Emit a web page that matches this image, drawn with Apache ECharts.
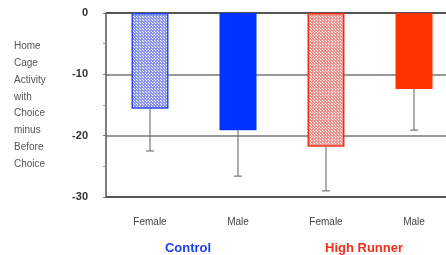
<!DOCTYPE html>
<html>
<head>
<meta charset="utf-8">
<script src="https://cdn.jsdelivr.net/npm/echarts@6/dist/echarts.min.js"></script>
<style>
  html, body { margin: 0; padding: 0; background: #fff; }
  #chart { width: 446px; height: 255px; }
</style>
</head>
<body>
<div id="chart"></div>
<script>
// data
var sexes = ['Female', 'Male', 'Female', 'Male'];
var groups = ['Control', 'High Runner'];
var means = [-15.6, -19.1, -21.8, -12.4];
var errLow = [-22.5, -26.6, -29.0, -19.1];
var yTicks = [-30, -20, -10, 0];

var FONT = '"Liberation Sans", Arial, sans-serif';

// dotted fill for the female bars
function dots(base) {
  var c = document.createElement('canvas');
  c.width = 3; c.height = 3;
  var ctx = c.getContext('2d');
  ctx.fillStyle = base;
  ctx.fillRect(0, 0, 3, 3);
  ctx.fillStyle = '#ffffff';
  ctx.fillRect(1, 1, 1, 1);
  ctx.fillRect(2, 2, 1, 1);
  return {image: c, repeat: 'repeat'};
}

var fills = [dots('#8c96ea'), '#0033ff', dots('#ec9590'), '#ff3300'];
var borders = ['#2a46f0', '#0033ff', '#f0301c', '#ff3300'];

var myChart = echarts.init(document.getElementById('chart'));

var option = {
  animation: false,
  // the plot runs past the right edge of the picture
  grid: {left: 106, width: 352, top: 13, height: 184, outerBoundsMode: 'none'},
  xAxis: [
    {
      type: 'category',
      data: sexes,
      position: 'bottom',
      axisLine: {show: false},
      axisTick: {show: false},
      axisLabel: {margin: 20, fontSize: 10, color: '#444', fontFamily: FONT}
    },
    {
      type: 'category',
      data: groups,
      position: 'bottom',
      offset: 37,
      axisLine: {show: false},
      axisTick: {show: false},
      axisLabel: {
        fontSize: 13, fontWeight: 'bold', fontFamily: FONT, padding: [0, 12, 0, 0],
        color: function (v, i) { return i === 0 ? '#1f3df0' : '#f0301c'; }
      }
    }
  ],
  yAxis: {
    type: 'value',
    min: yTicks[0],
    max: yTicks[yTicks.length - 1],
    interval: 10,
    axisLine: {show: true, lineStyle: {color: '#555', width: 1.5}},
    axisTick: {show: true, length: 3, lineStyle: {color: '#777'}},
    minorTick: {show: true, splitNumber: 2, length: 3, lineStyle: {color: '#999'}},
    axisLabel: {margin: 18, fontSize: 11, fontWeight: 'bold', color: '#333', fontFamily: FONT},
    splitLine: {show: true, lineStyle: {color: ['#555', '#999', '#999', '#555'], width: [2]}}
  },
  graphic: [{
    type: 'text',
    left: 14,
    top: 38,
    style: {
      text: 'Home\nCage\nActivity\nwith\nChoice\nminus\nBefore\nChoice',
      fontSize: 10,
      lineHeight: 16.8,
      fill: '#555',
      fontFamily: FONT
    }
  }],
  series: [
    {
      type: 'bar',
      barWidth: 37,
      data: means.map(function (v, i) {
        return {
          value: v,
          itemStyle: {color: fills[i], borderColor: borders[i], borderWidth: i % 2 === 0 ? 1.5 : 0}
        };
      })
    },
    {
      type: 'custom',
      data: means.map(function (v, i) { return [i, v, errLow[i]]; }),
      renderItem: function (params, api) {
        var top = api.coord([api.value(0), api.value(1)]);
        var bot = api.coord([api.value(0), api.value(2)]);
        var style = {stroke: '#777', lineWidth: 1.2};
        return {
          type: 'group',
          children: [
            {type: 'line', shape: {x1: top[0], y1: top[1], x2: bot[0], y2: bot[1]}, style: style},
            {type: 'line', shape: {x1: bot[0] - 4, y1: bot[1], x2: bot[0] + 4, y2: bot[1]}, style: style}
          ]
        };
      },
      z: 1
    }
  ]
};

myChart.setOption(option);
</script>
</body>
</html>
